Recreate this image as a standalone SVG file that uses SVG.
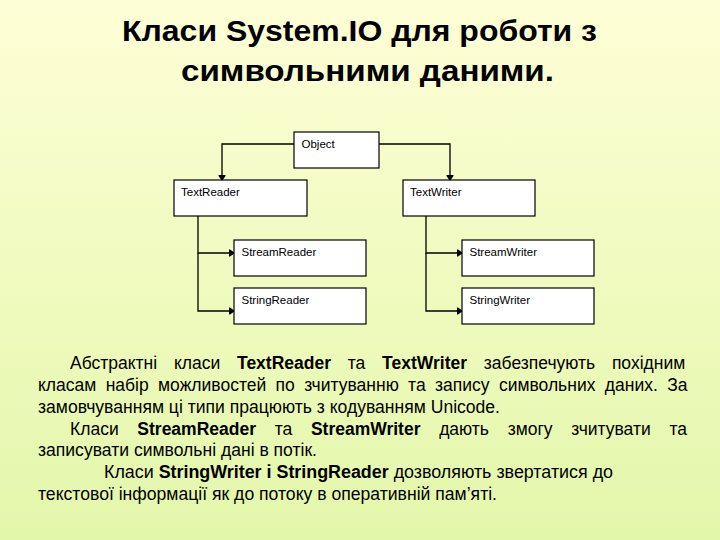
<svg xmlns="http://www.w3.org/2000/svg" width="720" height="540" viewBox="0 0 720 540">
<defs>
<linearGradient id="bg" x1="0" y1="0" x2="0" y2="1">
<stop offset="0" stop-color="#FEFED6"/>
<stop offset="1" stop-color="#E3F7AA"/>
</linearGradient>
<marker id="arr" markerWidth="8" markerHeight="8" refX="6" refY="4" orient="auto" markerUnits="userSpaceOnUse">
<path d="M1,0.5 V7.5 H2 L7,4 L2,0.5 Z" fill="#000"/>
</marker>
<style>
.box{fill:#fff;stroke:#000;stroke-width:1.2}
.lbl{font-family:"Liberation Sans",Arial,sans-serif;font-size:11.5px;fill:#000}
.con{fill:none;stroke:#000;stroke-width:1.3;marker-end:url(#arr)}
.title{font-family:"Liberation Sans",Arial,sans-serif;font-size:30px;font-weight:bold;fill:#000}
.p{font-family:"Liberation Sans",Arial,sans-serif;font-size:17.5px;fill:#000}
.b{font-weight:bold}
</style>
</defs>
<rect width="720" height="540" fill="url(#bg)"/>
<g id="title">
<text class="title" x="122" y="41" textLength="475" lengthAdjust="spacingAndGlyphs">Класи System.IO для роботи з</text>
<text class="title" x="181" y="81" textLength="373" lengthAdjust="spacingAndGlyphs">символьними даними.</text>
</g>
<g id="connectors">
<path class="con" d="M294,144 H222 V180"/>
<path class="con" d="M379,144 H450 V180"/>
<path class="con" d="M198,216 V253 H234"/>
<path class="con" d="M198,253 V311 H234"/>
<path class="con" d="M426,216 V253 H462"/>
<path class="con" d="M426,253 V311 H462"/>
</g>
<g id="Object"><rect class="box" x="294" y="132" width="85" height="36"/><text class="lbl" x="301.5" y="148">Object</text></g>
<g id="TextReader"><rect class="box" x="174" y="180" width="133" height="36"/><text class="lbl" x="181" y="196">TextReader</text></g>
<g id="TextWriter"><rect class="box" x="403" y="180" width="132" height="36"/><text class="lbl" x="410" y="196">TextWriter</text></g>
<g id="StreamReader"><rect class="box" x="234" y="240" width="132" height="36"/><text class="lbl" x="241.5" y="256">StreamReader</text></g>
<g id="StringReader"><rect class="box" x="234" y="288" width="132" height="36"/><text class="lbl" x="241.5" y="304">StringReader</text></g>
<g id="StreamWriter"><rect class="box" x="462" y="240" width="132" height="36"/><text class="lbl" x="469.5" y="256">StreamWriter</text></g>
<g id="StringWriter"><rect class="box" x="462" y="288" width="132" height="36"/><text class="lbl" x="469.5" y="304">StringWriter</text></g>
<g id="paragraph">
<text class="p" x="70" y="369" word-spacing="11.9">Абстрактні класи <tspan class="b">TextReader</tspan> та <tspan class="b">TextWriter</tspan> забезпечують похідним</text>
<text class="p" x="38" y="391" word-spacing="4.5">класам набір можливостей по зчитуванню та запису символьних даних. За</text>
<text class="p" x="38" y="413" textLength="462" lengthAdjust="spacingAndGlyphs">замовчуванням ці типи працюють з кодуванням Unicode.</text>
<text class="p" x="70" y="435" word-spacing="13.8">Класи <tspan class="b">StreamReader</tspan> та <tspan class="b">StreamWriter</tspan> дають змогу зчитувати та</text>
<text class="p" x="38" y="456" textLength="279" lengthAdjust="spacingAndGlyphs">записувати символьні дані в потік.</text>
<text class="p" x="104" y="478" textLength="509" lengthAdjust="spacingAndGlyphs">Класи <tspan class="b">StringWriter і StringReader</tspan> дозволяють звертатися до</text>
<text class="p" x="38" y="500" textLength="459" lengthAdjust="spacingAndGlyphs">текстової інформації як до потоку в оперативній пам’яті.</text>
</g>
</svg>
